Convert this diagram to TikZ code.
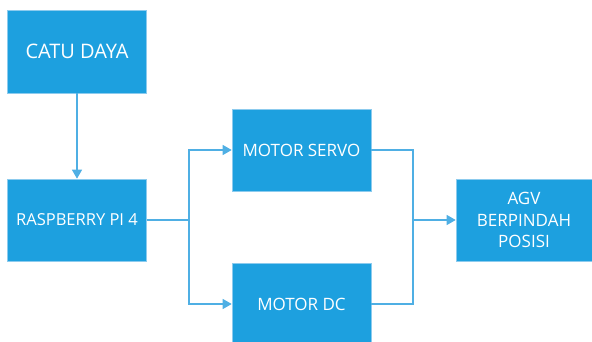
\documentclass[tikz,border=0pt]{standalone}
\usepackage{fontspec}
\setmainfont{Open Sans}
\usetikzlibrary{arrows.meta}
\definecolor{boxblue}{HTML}{1DA0DF}
\definecolor{lineblue}{HTML}{4FAFE4}
\definecolor{edgeblue}{HTML}{8CCBEE}

\begin{document}
\begin{tikzpicture}[x=1pt,y=-1pt,>={Triangle[length=9pt,width=10pt]}]
    \tikzstyle{block}=[rectangle,fill=boxblue,draw=edgeblue,line width=0.6pt,
        minimum width=139pt,minimum height=82pt,inner sep=0pt,
        text=white,font=\fontsize{17}{21.5}\selectfont,align=center]
    \tikzstyle{wire}=[draw=lineblue,line width=1.2pt]
    \useasboundingbox (0,0) rectangle (592,342);

    % Draw the blocks
    \node[block,minimum height=83pt,font=\fontsize{20}{24}\selectfont] (catu) at (77,51.5) {CATU DAYA};
    \node[block,font=\fontsize{16.5}{21}\selectfont] (rpi) at (77,220) {RASPBERRY PI 4};
    \node[block] (servo) at (301.5,150) {MOTOR SERVO};
    \node[block] (dc) at (301.5,304) {MOTOR DC};
    \node[block,minimum width=136pt] (agv) at (524,220) {AGV\\BERPINDAH\\POSISI};

    % Branch and join points
    \coordinate (split) at (189,220);
    \coordinate (join) at (413,220);

    % Connect the blocks
    \path[wire,->] (catu) -- (rpi);
    \path[wire] (rpi) -- (split);
    \foreach \dest in {servo,dc}
        \path[wire,->] (split) |- (\dest);
    \foreach \source in {servo,dc}
        \path[wire] (\source) -| (join);
    \path[wire,->] (join) -- (agv);
\end{tikzpicture}
\end{document}
